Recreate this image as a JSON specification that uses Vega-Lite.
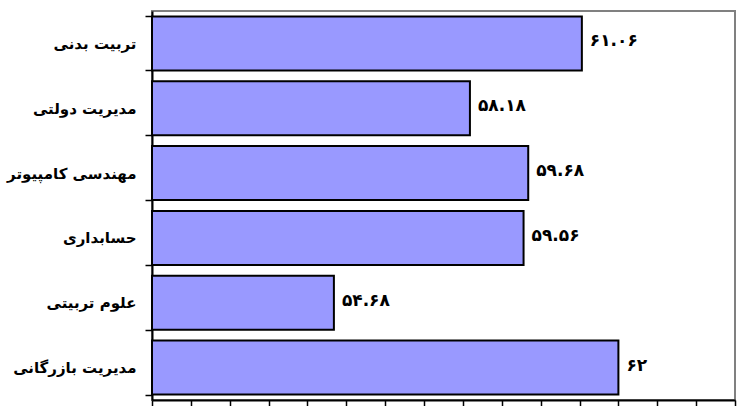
{
  "$schema": "https://vega.github.io/schema/vega-lite/v6.json",
  "autosize": "none",
  "width": 583,
  "height": 389,
  "padding": {"left": 152, "top": 11, "right": 2, "bottom": 6},
  "background": "white",
  "config": {
    "view": {"stroke": "#808080", "strokeWidth": 2},
    "font": "DejaVu Sans"
  },
  "data": {
    "values": [
      {"field": "تربیت بدنی", "value": 61.06, "label": "۶۱.۰۶"},
      {"field": "مدیریت دولتی", "value": 58.18, "label": "۵۸.۱۸"},
      {"field": "مهندسی کامپیوتر", "value": 59.68, "label": "۵۹.۶۸"},
      {"field": "حسابداری", "value": 59.56, "label": "۵۹.۵۶"},
      {"field": "علوم تربیتی", "value": 54.68, "label": "۵۴.۶۸"},
      {"field": "مدیریت بازرگانی", "value": 62, "label": "۶۲"}
    ]
  },
  "encoding": {
    "y": {
      "field": "field",
      "type": "nominal",
      "sort": null,
      "scale": {"paddingInner": 0.167, "paddingOuter": 0.0835},
      "axis": {
        "title": null,
        "domainColor": "black",
        "domainWidth": 2,
        "tickColor": "black",
        "tickWidth": 1.5,
        "tickSize": 7,
        "tickBand": "extent",
        "labelPadding": 9,
        "labelFont": "DejaVu Sans",
        "labelFontWeight": "bold",
        "labelFontSize": 15,
        "labelColor": "black"
      }
    },
    "x": {
      "field": "value",
      "type": "quantitative",
      "scale": {"domain": [50, 65], "nice": false},
      "axis": {
        "title": null,
        "labels": false,
        "grid": false,
        "values": [50, 51, 52, 53, 54, 55, 56, 57, 58, 59, 60, 61, 62, 63, 64, 65],
        "domainColor": "black",
        "domainWidth": 2,
        "tickColor": "black",
        "tickWidth": 1.5,
        "tickSize": 6
      }
    }
  },
  "layer": [
    {
      "mark": {"type": "bar", "fill": "#9999FF", "stroke": "black", "strokeWidth": 2},
      "encoding": {"x2": {"datum": 50}}
    },
    {
      "mark": {
        "type": "text",
        "align": "left",
        "baseline": "middle",
        "dx": 8,
        "dy": -2,
        "font": "DejaVu Sans",
        "fontSize": 17,
        "fontWeight": "bold",
        "color": "black"
      },
      "encoding": {"text": {"field": "label"}}
    }
  ]
}
